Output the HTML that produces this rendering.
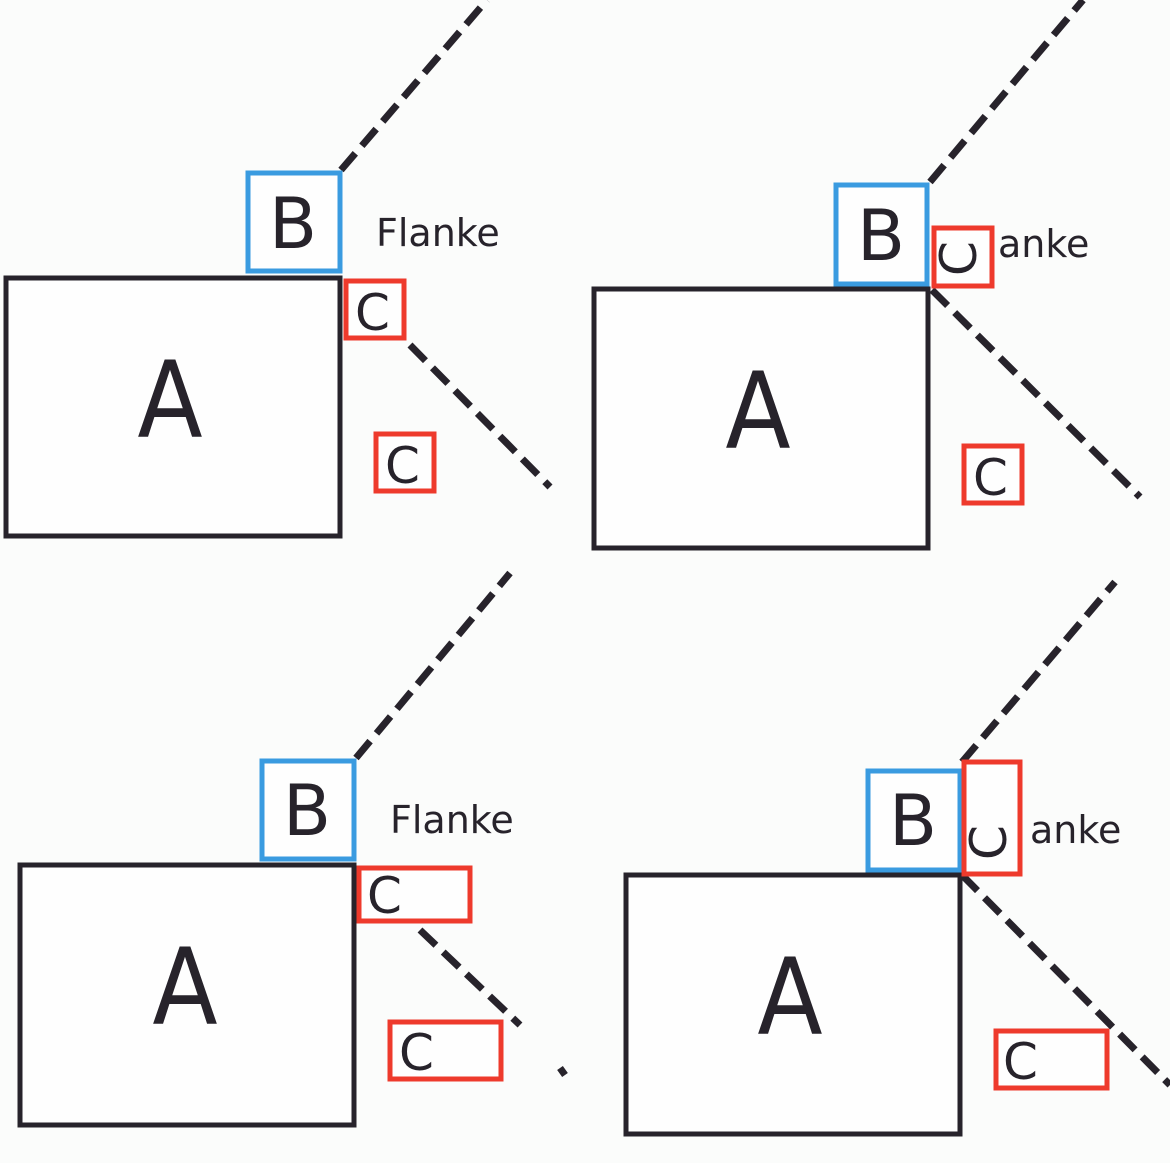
<!DOCTYPE html>
<html><head><meta charset="utf-8"><style>
html,body{margin:0;padding:0;background:#fbfcfb;}
svg{display:block}
text{font-family:"DejaVu Sans","Liberation Sans",sans-serif;fill:#27232b}
</style></head><body>
<svg width="1170" height="1163" viewBox="0 0 1170 1163" xmlns="http://www.w3.org/2000/svg">
<rect width="1170" height="1163" fill="#fbfcfb"/>
<g fill="none" stroke="#27232b" stroke-width="7" stroke-dasharray="22,10">
<line x1="341" y1="170" x2="487" y2="0"/>
<line x1="410" y1="345" x2="550" y2="487"/>
<line x1="930" y1="182" x2="1083" y2="0"/>
<line x1="932" y1="290" x2="1140" y2="497"/>
<line x1="356" y1="758" x2="510" y2="573"/>
<line x1="420" y1="930" x2="520" y2="1025"/>
<line x1="560" y1="1068" x2="565" y2="1075"/>
<line x1="962" y1="762" x2="1115" y2="582"/>
<line x1="962" y1="875" x2="1170" y2="1085"/>
</g>
<g fill="#fefefe" stroke="#27232b" stroke-width="5">
<rect x="6" y="278" width="334" height="258"/>
<rect x="594" y="289" width="334" height="259"/>
<rect x="20" y="865" width="334" height="260"/>
<rect x="626" y="875" width="334" height="259"/>
</g>
<g fill="#fefefe" stroke="#3a9be0" stroke-width="5">
<rect x="248" y="173" width="92" height="98"/>
<rect x="836" y="185" width="91" height="99"/>
<rect x="262" y="761" width="92" height="98"/>
<rect x="868" y="771" width="92" height="99"/>
</g>
<g fill="#fefefe" stroke="#ee3a2c" stroke-width="5">
<rect x="346" y="281" width="58" height="57"/>
<rect x="376" y="434" width="58" height="57"/>
<rect x="934" y="228" width="58" height="58"/>
<rect x="964" y="446" width="58" height="57"/>
<rect x="359" y="868" width="111" height="53"/>
<rect x="390" y="1022" width="111" height="57"/>
<rect x="964" y="762" width="56" height="112"/>
<rect x="996" y="1031" width="111" height="57"/>
</g>
<g font-size="106" text-anchor="middle">
<text x="170" y="437" transform="translate(170,0) scale(0.9,1) translate(-170,0)">A</text>
<text x="758" y="448" transform="translate(758,0) scale(0.9,1) translate(-758,0)">A</text>
<text x="185" y="1024" transform="translate(185,0) scale(0.9,1) translate(-185,0)">A</text>
<text x="790" y="1034" transform="translate(790,0) scale(0.9,1) translate(-790,0)">A</text>
</g>
<g font-size="70" text-anchor="middle">
<text x="293" y="248">B</text>
<text x="881" y="260">B</text>
<text x="307" y="835">B</text>
<text x="913" y="845">B</text>
</g>
<g font-size="50">
<text x="355" y="330">C</text>
<text x="385" y="483">C</text>
<text x="973" y="495">C</text>
<text x="367" y="913">C</text>
<text x="399" y="1070">C</text>
<text x="1003" y="1079">C</text>
<text transform="translate(962,258) rotate(-90)" x="-18" y="14">C</text>
<text transform="translate(992,842) rotate(-90)" x="-18" y="14">C</text>
</g>
<g font-size="38">
<text x="376" y="246">Flanke</text>
<text x="390" y="833">Flanke</text>
<text x="998" y="257">anke</text>
<text x="1030" y="843">anke</text>
</g>
</svg>
</body></html>
